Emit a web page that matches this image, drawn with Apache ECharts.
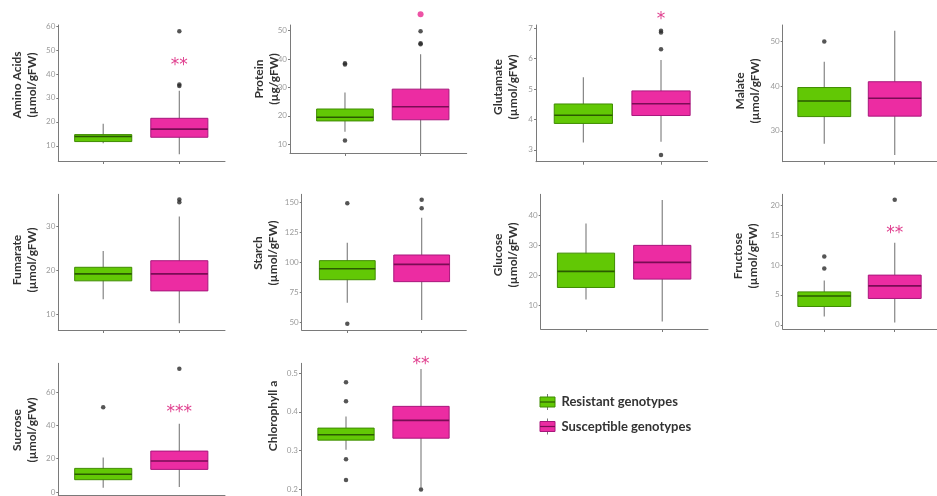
<!DOCTYPE html>
<html><head><meta charset="utf-8">
<script src="https://cdn.jsdelivr.net/npm/echarts@6/dist/echarts.min.js"></script>
<style>html,body{margin:0;padding:0;background:#fff}#c{width:937px;height:496px}</style>
</head><body><div id="c"></div>
<script>
// ---------------- DATA ----------------
const groups = ['Resistant genotypes', 'Susceptible genotypes'];
const panelTitles = [
  ['Amino Acids', '(µmol/gFW)'], ['Protein', '(µg/gFW)'], ['Glutamate', '(µmol/gFW)'], ['Malate', '(µmol/gFW)'],
  ['Fumarate', '(µmol/gFW)'], ['Starch', '(µmol/gFW)'], ['Glucose', '(µmol/gFW)'], ['Fructose', '(µmol/gFW)'],
  ['Sucrose', '(µmol/gFW)'], ['Chlorophyll a']
];
// [lower whisker, Q1, median, Q3, upper whisker]
const resistantStats = [
  [11.1, 11.8, 13.9, 14.7, 19.2],
  [14.4, 18.2, 19.5, 22.4, 28.2],
  [3.24, 3.87, 4.14, 4.51, 5.39],
  [27.1, 33.2, 36.7, 39.7, 45.5],
  [13.4, 17.6, 19.2, 20.7, 24.4],
  [66.7, 85.8, 95, 101.7, 116.7],
  [11.9, 15.9, 21.3, 27.4, 37.3],
  [1.4, 3.06, 4.8, 5.5, 7.4],
  [2.6, 7.4, 10.7, 14.2, 20.8],
  [0.302, 0.327, 0.341, 0.358, 0.388]
];
const susceptibleStats = [
  [6.5, 13.6, 17.0, 21.5, 33.0],
  [6.6, 18.6, 23.2, 29.4, 41.7],
  [3.27, 4.13, 4.52, 4.94, 5.96],
  [24.6, 33.3, 37.3, 41.0, 52.4],
  [7.9, 15.3, 19.2, 22.2, 32.3],
  [52.2, 84.2, 98.6, 106.4, 137.5],
  [4.5, 18.7, 24.3, 30.0, 45.2],
  [0.4, 4.4, 6.5, 8.3, 13.7],
  [3.0, 13.6, 18.6, 24.6, 41.0],
  [0.205, 0.332, 0.378, 0.414, 0.51]
];
const resistantOutliers = [
  [], [38.5, 38.1, 11.3], [], [50], [], [149.5, 49.2], [], [11.4, 9.4], [50.9], [0.476, 0.427, 0.278, 0.224]
];
const susceptibleOutliers = [
  [35.0, 35.6, 57.8], [45.2, 45.6, 49.8], [6.31, 6.86, 6.92, 2.83], [], [36.2, 35.6], [152.5, 145.3], [], [20.9], [74.1], [0.2]
];
const highlightedPoints = [null, 55.8, null, null, null, null, null, null, null, null];
const significance = ['**', '', '*', '', '', '', '', '**', '***', '**'];
const significanceY = [44.7, null, 7.38, null, null, null, null, 15.7, 49.7, 0.53];
const yTicks = [
  [10, 20, 30, 40, 50, 60], [10, 20, 30, 40, 50], [3, 4, 5, 6, 7], [30, 40, 50],
  [10, 20, 30], [50, 75, 100, 125, 150], [10, 20, 30, 40], [0, 5, 10, 15, 20],
  [0, 20, 40, 60], [0.2, 0.3, 0.4, 0.5]
];

// ---------------- LAYOUT ----------------
// [left, right, top, bottom, xMin, xMax, yMin, yMax]
const layout = [
  [58.3, 225, 25, 161, 0.41, 2.6, 3.7, 60.4],
  [290, 466.7, 25, 153, 0.273, 2.61, 6.9, 52.0],
  [536, 707.6, 25, 161.7, 0.39, 2.6, 2.61, 7.11],
  [782.7, 949.8, 25, 161.7, 0.41, 2.6, 23.1, 53.7],
  [58.3, 225, 194.3, 330, 0.41, 2.6, 6.35, 37.4],
  [301.7, 466.3, 194.3, 330, 0.387, 2.6, 43.9, 157],
  [540.7, 708, 194.3, 329, 0.406, 2.6, 2.0, 47.1],
  [782.7, 949.8, 194.3, 329, 0.41, 2.6, -0.7, 21.8],
  [58.3, 225, 363.3, 500, 0.41, 2.6, -1.8, 77.4],
  [301, 466, 363.3, 500, 0.4, 2.6, 0.183, 0.525]
];
// title centre [x, y]
const titlePos = [
  [24.5, 85], [266.5, 79], [505.5, 87], [748, 91],
  [24.5, 260], [266, 253], [506, 255], [746, 256],
  [24.5, 430], [273.3, 416]
];

const GREEN = '#62c805', GREEN_EDGE = '#3f8c00', GREEN_MED = '#2a5a00';
const PINK = '#ec2ca2', PINK_EDGE = '#a8177c', PINK_MED = '#7a0c55';
const AXIS = '#7a7a7a';

function renderBox(params, api) {
  const x = api.value(0);
  const lo = api.coord([x, api.value(1)]);
  const q1 = api.coord([x, api.value(2)]);
  const md = api.coord([x, api.value(3)]);
  const q3 = api.coord([x, api.value(4)]);
  const hi = api.coord([x, api.value(5)]);
  const w = api.size([0.75, 0])[0];
  const res = x === 1;
  return {
    type: 'group',
    children: [
      { type: 'line', shape: { x1: lo[0], y1: lo[1], x2: hi[0], y2: hi[1] }, style: { stroke: '#858585', lineWidth: 1.2 } },
      { type: 'rect', shape: { x: q3[0] - w / 2, y: q3[1], width: w, height: q1[1] - q3[1] },
        style: { fill: res ? GREEN : PINK, stroke: res ? GREEN_EDGE : PINK_EDGE, lineWidth: 1 } },
      { type: 'line', shape: { x1: md[0] - w / 2, y1: md[1], x2: md[0] + w / 2, y2: md[1] },
        style: { stroke: res ? GREEN_MED : PINK_MED, lineWidth: 1.6 } }
    ]
  };
}

function renderStar(params, api) {
  const p = api.coord([api.value(0), api.value(1)]);
  return {
    type: 'text', x: p[0], y: p[1] + 3,
    style: { text: significance[params.seriesIndex === undefined ? 0 : 0] && api.value(2), fill: '#e0408f',
      font: '17px "DejaVu Sans"', align: 'center', verticalAlign: 'middle' }
  };
}

const grids = [], xAxes = [], yAxes = [], series = [], graphics = [];
layout.forEach((L, i) => {
  const [left, right, top, bottom, xMin, xMax, yMin, yMax] = L;
  grids.push({ left: left, top: top, width: right - left, height: bottom - top, containLabel: false });
  xAxes.push({
    type: 'value', gridIndex: i, min: xMin, max: xMax,
    axisLine: { show: true, onZero: false, lineStyle: { color: AXIS, width: 1 } },
    axisTick: { show: true, length: 3, customValues: [1, 2], lineStyle: { color: AXIS } },
    axisLabel: { show: false }, splitLine: { show: false }
  });
  yAxes.push({
    type: 'value', gridIndex: i, min: yMin, max: yMax,
    axisLine: { show: true, onZero: false, lineStyle: { color: AXIS, width: 1 } },
    axisTick: { show: true, length: 2, customValues: yTicks[i], lineStyle: { color: AXIS } },
    axisLabel: { show: true, customValues: yTicks[i], fontSize: 8, color: '#9a9a9a', margin: 3, fontFamily: 'Lato' },
    splitLine: { show: false }
  });
  series.push({
    type: 'custom', xAxisIndex: i, yAxisIndex: i, renderItem: renderBox, clip: false,
    encode: { x: 0, y: [1, 2, 3, 4, 5] },
    data: [[1].concat(resistantStats[i]), [2].concat(susceptibleStats[i])]
  });
  const outs = resistantOutliers[i].map(v => [1, v]).concat(susceptibleOutliers[i].map(v => [2, v]));
  if (outs.length) {
    series.push({
      type: 'scatter', xAxisIndex: i, yAxisIndex: i, data: outs, symbolSize: 4.5, clip: false,
      itemStyle: { color: '#2a2a2a' }, silent: true
    });
  }
  if (highlightedPoints[i] !== null) {
    series.push({
      type: 'scatter', xAxisIndex: i, yAxisIndex: i, data: [[2, highlightedPoints[i]]], symbolSize: 6, clip: false,
      itemStyle: { color: '#e8288f' }, silent: true
    });
  }
  if (significance[i]) {
    series.push({
      type: 'custom', xAxisIndex: i, yAxisIndex: i, clip: false,
      data: [[2, significanceY[i], significance[i]]],
      dimensions: ['x', 'y', { name: 't', type: 'ordinal' }],
      encode: { x: 0, y: 1 },
      renderItem: function (params, api) {
        const p = api.coord([2, significanceY[i]]);
        return { type: 'text', x: p[0], y: p[1] + 3,
          style: { text: significance[i], fill: '#e0408f', font: '17px "DejaVu Sans"', align: 'center', verticalAlign: 'middle' } };
      }
    });
  }
  const t = panelTitles[i];
  graphics.push({
    type: 'text', x: titlePos[i][0], y: titlePos[i][1], rotation: Math.PI / 2,
    style: { text: t.join('\n'), font: 'bold 12px Lato', fill: '#333', align: 'center', verticalAlign: 'middle', lineHeight: 15 }
  });
});

// legend built from group names
const legendY = [402, 426.5];
groups.forEach((g, k) => {
  const cy = legendY[k];
  graphics.push({ type: 'line', shape: { x1: 547.5, y1: cy - 8, x2: 547.5, y2: cy + 8 }, style: { stroke: '#777', lineWidth: 1 } });
  graphics.push({ type: 'rect', shape: { x: 540, y: cy - 5, width: 15, height: 10 },
    style: { fill: k === 0 ? GREEN : PINK, stroke: k === 0 ? GREEN_EDGE : PINK_EDGE, lineWidth: 1 } });
  graphics.push({ type: 'line', shape: { x1: 540, y1: cy, x2: 555, y2: cy }, style: { stroke: k === 0 ? GREEN_MED : PINK_MED, lineWidth: 1.2 } });
  graphics.push({ type: 'text', x: 561.5, y: cy, style: { text: g, font: 'bold 13px Lato', fill: '#333', align: 'left', verticalAlign: 'middle' } });
});

const chart = echarts.init(document.getElementById('c'), null, { renderer: 'canvas' });
chart.setOption({
  animation: false,
  backgroundColor: '#fff',
  grid: grids, xAxis: xAxes, yAxis: yAxes, series: series, graphic: graphics
});
</script></body></html>
